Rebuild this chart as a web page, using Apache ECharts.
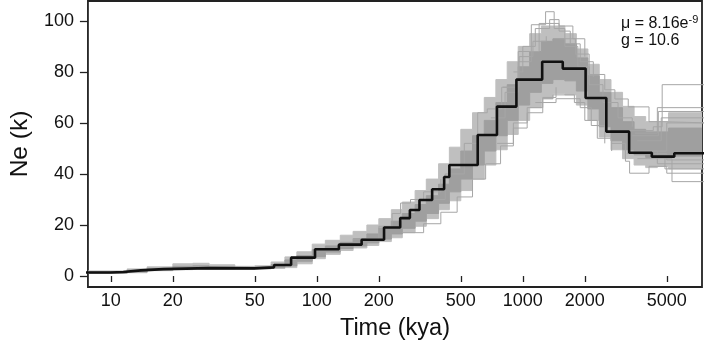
<!DOCTYPE html>
<html>
<head>
<meta charset="utf-8">
<script src="https://cdn.jsdelivr.net/npm/echarts/dist/echarts.min.js"></script>
<style>
  html, body { margin: 0; padding: 0; background: #fff; }
  #chart { width: 707px; height: 346px; }
</style>
</head>
<body>
<div id="chart"></div>
<script>
// PSMC estimate (step starts, kya) and Ne (x1000)
var psmcTime = [7, 10, 11.5, 14, 18, 30, 50, 62, 75, 98, 128, 165, 212, 254, 283, 315, 363, 415, 440, 604, 749, 931, 1242, 1563, 2018, 2544, 3283, 4230, 5437, 8000];
var psmcNe   = [1.4, 1.6, 2.2, 2.7, 3.1, 3.0, 3.4, 4.3, 7.2, 10.5, 12.3, 14.2, 19.0, 22.7, 25.9, 29.8, 34.0, 38.8, 43.5, 55.3, 66.4, 77.0, 84.0, 81.3, 69.8, 56.6, 48.3, 46.8, 48.1, 48.1];

// spread of the bootstrap runs: outer hull and dense core
var bandTime  = [7, 12, 15, 20, 25, 30, 40, 50, 60, 70, 80, 95, 110, 130, 150, 175, 200, 230, 260, 300, 340, 390, 440, 500, 570, 650, 740, 840, 950, 1080, 1230, 1400, 1600, 1820, 2070, 2350, 2680, 3050, 3470, 3950, 4500, 5100, 8000];
var hullUpper = [2.0, 2.8, 3.6, 4.8, 5.0, 4.4, 3.8, 4.0, 5.5, 7.5, 9.5, 12.5, 14, 16, 17.5, 20, 22.5, 26, 29, 33.5, 38, 44, 50.5, 57.5, 64, 70, 77, 84, 90, 95, 98, 98, 95, 89, 83, 77, 72, 66.5, 62.5, 60.5, 60.5, 64, 64];
var hullLower = [1.0, 1.3, 2.1, 2.5, 2.6, 2.6, 2.7, 2.8, 3.0, 3.3, 4.8, 6.8, 8.5, 10, 11, 12, 13.5, 15, 17, 19.5, 22.5, 26, 29.5, 33.5, 38, 43.5, 49.5, 55.5, 61, 66, 69.5, 71.5, 71, 67, 61, 54.5, 49.5, 46, 43.5, 42.5, 43, 42, 42];
var coreUpper = [1.7, 2.3, 3.0, 3.8, 4.0, 3.6, 3.4, 3.5, 4.5, 6.3, 8.0, 10.3, 11.8, 13.2, 14.7, 16.5, 18.8, 21.5, 24.5, 28, 31.5, 36, 42, 49, 55, 61, 68, 75, 82, 88, 92, 93, 91, 85.5, 78.5, 72, 66, 60.5, 57.5, 56.5, 56.5, 58, 58];
var coreLower = [1.2, 1.6, 2.4, 2.8, 2.8, 2.8, 2.8, 3.0, 3.3, 4.0, 5.8, 7.6, 9.4, 10.8, 11.8, 13, 14.5, 16.5, 18.7, 21.5, 24.5, 28.5, 33, 38, 43.5, 49, 55, 61, 67, 72, 75.5, 77, 76.5, 72.5, 65.5, 58.5, 53, 49.5, 47.5, 46.5, 46.5, 47, 47];

// bootstrap runs that stick out of the hull
var bootRuns = [
  [[700,62],[820,72],[950,84],[1100,98.5],[1290,103.6],[1420,97],[1600,90],[1850,82],[2100,75],[2450,68],[2900,62],[3400,58.5]],
  [[750,52],[900,60],[1050,66],[1250,69.5],[1400,71],[1780,68],[2000,61],[2300,54],[2700,49]],
  [[330,30],[420,40],[520,52],[604,64],[672,65.5],[790,74],[960,86],[1120,92],[1300,94]],
  [[1500,93],[1800,87],[2100,79],[2500,73],[2800,69.4],[3250,66.3],[4100,60.5],[4800,60],[8000,60]],
  [[150,14.5],[200,19.5],[232,24.5],[255,28.6],[285,30],[330,33],[400,38]],
  [[260,17],[330,20.5],[400,25],[480,31],[570,38],[660,44],[780,51],[900,58],[1050,64],[1250,70],[1450,74]],
  [[900,80],[1000,90],[1150,97],[1350,100.5],[1500,96],[1700,91],[1900,84],[2200,78]],
  [[800,74],[950,88],[1200,99],[1500,98],[1750,93],[2000,86]],
  [[1150,68],[1450,69.5],[1900,66],[2150,59],[2500,52]],
  [[3300,57],[4300,58.5],[4750,75],[8000,75]],
  [[3500,56],[4500,66],[8000,66]],
  [[3400,55],[4550,64.5],[8000,64.5]],
  [[3600,53],[4700,62],[8000,62]],
  [[3300,49],[4500,44],[8000,44]],
  [[3200,48],[4900,42],[8000,42]],
  [[2700,52],[3150,45],[3300,40.3],[4100,43],[5000,40.3],[8000,40.3]],
  [[3600,46],[5300,37],[8000,37]],
  [[3700,49],[5000,60],[8000,60]],
  [[3900,48],[5000,45.5],[8000,45.5]]
];

var xTicks = [10, 20, 50, 100, 200, 500, 1000, 2000, 5000];
var yTicks = [0, 20, 40, 60, 80, 100];

var grey = '#a6a6a6';
var font = 'Liberation Sans, Arial, Helvetica, sans-serif';

// step-shaped band between two envelopes, placed with the axes
function bandRenderer(upper, lower, fill) {
  return function (params, api) {
    var pts = [];
    var n = bandTime.length;
    for (var i = 0; i < n - 1; i++) {
      pts.push(api.coord([bandTime[i], upper[i]]));
      pts.push(api.coord([bandTime[i + 1], upper[i]]));
    }
    for (var k = n - 2; k >= 0; k--) {
      pts.push(api.coord([bandTime[k + 1], lower[k]]));
      pts.push(api.coord([bandTime[k], lower[k]]));
    }
    var cs = params.coordSys;
    return {
      type: 'polygon',
      shape: { points: pts },
      style: { fill: fill, stroke: fill, lineWidth: 1 },
      clipPath: { type: 'rect', shape: { x: cs.x, y: cs.y, width: cs.width, height: cs.height } }
    };
  };
}

var series = [
  { type: 'custom', renderItem: bandRenderer(hullUpper, hullLower, '#bfbfbf'), silent: true, data: [[bandTime[1], hullUpper[1]]] },
  { type: 'custom', renderItem: bandRenderer(coreUpper, coreLower, '#9f9f9f'), silent: true, data: [[bandTime[1], coreUpper[1]]] }
];
bootRuns.forEach(function (run) {
  series.push({
    type: 'line', step: 'end', data: run,
    showSymbol: false, lineStyle: { width: 1, color: grey }
  });
});
var black = [];
for (var j = 0; j < psmcTime.length; j++) black.push([psmcTime[j], psmcNe[j]]);
series.push({
  type: 'line', step: 'end', data: black,
  showSymbol: false, lineStyle: { width: 2.6, color: '#111' }
});

var myChart = echarts.init(document.getElementById('chart'));
myChart.setOption({
  backgroundColor: '#fff',
  animation: false,
  grid: {
    left: 67, right: 5, top: 1, bottom: 59,
    show: true, borderColor: '#222', borderWidth: 1.8, backgroundColor: 'transparent'
  },
  xAxis: {
    type: 'log', logBase: 10, min: 7.74, max: 7413,
    name: 'Time (kya)', nameLocation: 'middle', nameGap: 30,
    nameTextStyle: { fontSize: 23.5, fontFamily: font, color: '#111' },
    axisLine: { show: false },
    axisTick: { show: true, length: 6, lineStyle: { color: '#222', width: 1.3 }, customValues: xTicks },
    axisLabel: {
      fontSize: 18, fontFamily: font, color: '#111', margin: 5, customValues: xTicks,
      formatter: function (v) { return String(v); }
    },
    splitLine: { show: false }, minorTick: { show: false }
  },
  yAxis: {
    type: 'value', min: -4.3, max: 107.8,
    name: 'Ne (k)', nameLocation: 'middle', nameGap: 42,
    nameTextStyle: { fontSize: 24.5, fontFamily: font, color: '#111' },
    axisLine: { show: false },
    axisTick: { show: true, length: 8, lineStyle: { color: '#222', width: 1.3 }, customValues: yTicks },
    axisLabel: { fontSize: 18, fontFamily: font, color: '#111', margin: 14, customValues: yTicks },
    splitLine: { show: false }
  },
  graphic: [
    {
      type: 'text', left: 621, top: 14,
      style: {
        text: '{a|μ = 8.16e}{s|-9}',
        rich: {
          a: { fontSize: 16, fontFamily: font, fill: '#111' },
          s: { fontSize: 11, fontFamily: font, fill: '#111', padding: [0, 0, 8, 0] }
        }
      }
    },
    {
      type: 'text', left: 621, top: 33,
      style: { text: 'g = 10.6', fontSize: 16, fontFamily: font, fill: '#111' }
    }
  ],
  series: series
});
</script>
</body>
</html>
